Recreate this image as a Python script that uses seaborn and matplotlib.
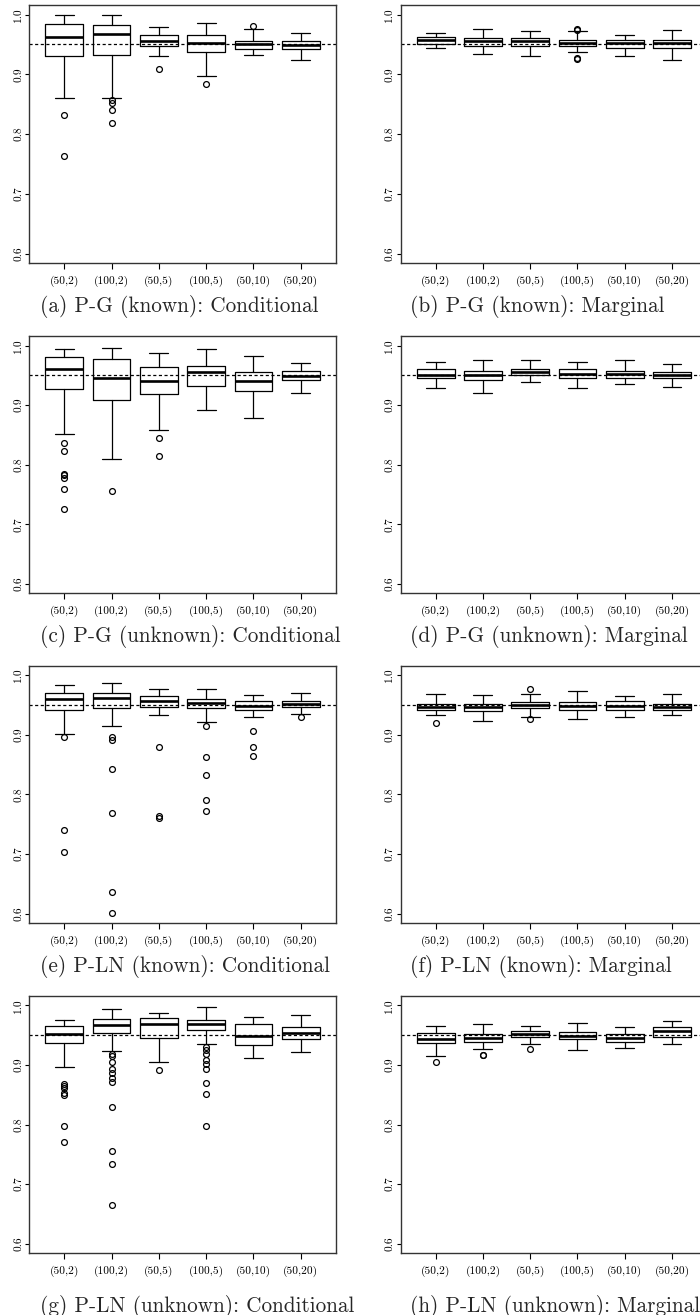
import matplotlib
matplotlib.use("Agg")
import matplotlib.pyplot as plt
import seaborn as sns

# %% Datos: (bigote inf, Q1, mediana, Q3, bigote sup) por caja

grupos = ["(50,2)", "(100,2)", "(50,5)", "(100,5)", "(50,10)", "(50,20)"]
ytick_vals = [0.6, 0.7, 0.8, 0.9, 1.0]
ytick_labels = ["0.6", "0.7", "0.8", "0.9", "1.0"]
nivel = 0.95

pg_known_cond = [(0.860, 0.930, 0.962, 0.984, 0.999), (0.860, 0.933, 0.967, 0.983, 0.999),
                 (0.930, 0.948, 0.956, 0.965, 0.980), (0.898, 0.937, 0.953, 0.965, 0.986),
                 (0.932, 0.942, 0.951, 0.956, 0.976), (0.924, 0.942, 0.949, 0.956, 0.969)]
pg_known_cond_out = [[0.832, 0.764], [0.857, 0.852, 0.840, 0.818], [0.909], [0.884], [0.981], []]

pg_known_marg = [(0.944, 0.950, 0.957, 0.962, 0.970), (0.934, 0.948, 0.955, 0.960, 0.976),
                 (0.930, 0.948, 0.955, 0.960, 0.972), (0.937, 0.948, 0.953, 0.958, 0.972),
                 (0.930, 0.944, 0.952, 0.958, 0.966), (0.924, 0.944, 0.952, 0.958, 0.974)]
pg_known_marg_out = [[], [], [], [0.976, 0.975, 0.927, 0.926], [], []]

pg_unknown_cond = [(0.852, 0.927, 0.960, 0.980, 0.994), (0.810, 0.909, 0.946, 0.978, 0.996),
                   (0.858, 0.918, 0.941, 0.964, 0.988), (0.892, 0.932, 0.955, 0.965, 0.994),
                   (0.878, 0.923, 0.940, 0.956, 0.982), (0.921, 0.942, 0.949, 0.958, 0.970)]
pg_unknown_cond_out = [[0.837, 0.823, 0.785, 0.782, 0.778, 0.759, 0.726], [0.755],
                       [0.844, 0.815], [], [], []]

pg_unknown_marg = [(0.928, 0.946, 0.951, 0.960, 0.973), (0.921, 0.942, 0.951, 0.958, 0.975),
                   (0.938, 0.950, 0.956, 0.960, 0.975), (0.928, 0.946, 0.952, 0.960, 0.973),
                   (0.935, 0.946, 0.952, 0.958, 0.975), (0.931, 0.945, 0.950, 0.955, 0.969)]
pg_unknown_marg_out = [[], [], [], [], [], []]

pln_known_cond = [(0.902, 0.942, 0.960, 0.970, 0.983), (0.914, 0.944, 0.962, 0.970, 0.987),
                  (0.933, 0.947, 0.956, 0.965, 0.976), (0.921, 0.944, 0.953, 0.960, 0.976),
                  (0.930, 0.942, 0.948, 0.956, 0.966), (0.934, 0.947, 0.952, 0.956, 0.970)]
pln_known_cond_out = [[0.896, 0.740, 0.704], [0.896, 0.891, 0.842, 0.768, 0.636, 0.602],
                      [0.880, 0.763, 0.761], [0.915, 0.863, 0.832, 0.790, 0.772],
                      [0.907, 0.880, 0.864], [0.930]]

pln_known_marg = [(0.933, 0.941, 0.947, 0.952, 0.969), (0.923, 0.939, 0.947, 0.952, 0.966),
                  (0.930, 0.944, 0.950, 0.955, 0.969), (0.927, 0.942, 0.948, 0.955, 0.973),
                  (0.929, 0.942, 0.948, 0.956, 0.965), (0.933, 0.941, 0.947, 0.952, 0.969)]
pln_known_marg_out = [[0.919], [], [0.977, 0.927], [], [], []]

pln_unknown_cond = [(0.897, 0.937, 0.951, 0.966, 0.975), (0.923, 0.953, 0.967, 0.977, 0.993),
                    (0.905, 0.945, 0.968, 0.978, 0.987), (0.935, 0.959, 0.969, 0.975, 0.997),
                    (0.911, 0.933, 0.949, 0.969, 0.981), (0.921, 0.944, 0.953, 0.963, 0.983)]
pln_unknown_cond_out = [[0.868, 0.865, 0.861, 0.852, 0.849, 0.797, 0.771],
                        [0.918, 0.915, 0.904, 0.893, 0.887, 0.878, 0.871, 0.829, 0.755, 0.733, 0.665],
                        [0.891],
                        [0.930, 0.925, 0.918, 0.909, 0.901, 0.893, 0.869, 0.851, 0.797],
                        [], []]

pln_unknown_marg = [(0.915, 0.937, 0.943, 0.953, 0.965), (0.926, 0.939, 0.945, 0.951, 0.969),
                    (0.935, 0.947, 0.952, 0.957, 0.965), (0.925, 0.943, 0.949, 0.955, 0.971),
                    (0.929, 0.939, 0.945, 0.951, 0.963), (0.935, 0.947, 0.956, 0.963, 0.973)]
pln_unknown_marg_out = [[0.905], [0.917, 0.916], [0.927], [], [], []]

captions = ["(a) P-G (known): Conditional", "(b) P-G (known): Marginal",
            "(c) P-G (unknown): Conditional", "(d) P-G (unknown): Marginal",
            "(e) P-LN (known): Conditional", "(f) P-LN (known): Marginal",
            "(g) P-LN (unknown): Conditional", "(h) P-LN (unknown): Marginal"]

paneles = [(pg_known_cond, pg_known_cond_out), (pg_known_marg, pg_known_marg_out),
           (pg_unknown_cond, pg_unknown_cond_out), (pg_unknown_marg, pg_unknown_marg_out),
           (pln_known_cond, pln_known_cond_out), (pln_known_marg, pln_known_marg_out),
           (pln_unknown_cond, pln_unknown_cond_out), (pln_unknown_marg, pln_unknown_marg_out)]

# %% Estilo

sns.set_theme(style="ticks")
plt.rcParams["font.family"] = ["cmr10", "DejaVu Serif"]
plt.rcParams["axes.formatter.use_mathtext"] = True

W, H = 700, 1315
fig = plt.figure(figsize=(W / 100, H / 100), dpi=100)

col_x = [(29.3, 335.7), (400.7, 707.0)]
fila_y = [(5, 263.3), (336, 593.3), (665.5, 923.3), (995.7, 1253.3)]
caption_y = [307, 637, 967, 1306]
caption_x = [40, 410]


def armar_stats(cajas, outliers):
    stats = []
    for (lo, q1, med, q3, hi), out in zip(cajas, outliers):
        stats.append({"whislo": lo, "q1": q1, "med": med, "q3": q3, "whishi": hi, "fliers": out})
    return stats


for i, (cajas, outliers) in enumerate(paneles):
    fila, col = divmod(i, 2)
    x0, x1 = col_x[col]
    yt, yb = fila_y[fila]
    ax = fig.add_axes([x0 / W, 1 - yb / H, (x1 - x0) / W, (yb - yt) / H])

    linea = dict(color="black", linewidth=0.9)
    ax.bxp(armar_stats(cajas, outliers), positions=range(1, 7), widths=0.8, capwidths=0.4,
           boxprops=linea, whiskerprops=linea, capprops=linea,
           medianprops=dict(color="black", linewidth=1.9),
           flierprops=dict(marker="o", markerfacecolor="none", markeredgecolor="black",
                           markersize=4.2, markeredgewidth=0.9))
    ax.axhline(nivel, color="black", linewidth=0.9, linestyle=(0, (2.5, 2)))

    ax.set_xlim(0.26, 6.74)
    ax.set_ylim(0.584, 1.016)
    ax.set_xticks(range(1, 7))
    ax.set_xticklabels(grupos, fontsize=8.2)
    ax.set_yticks(ytick_vals)
    ax.set_yticklabels(ytick_labels, fontsize=8.2, rotation=90, va="center")
    ax.tick_params(axis="x", length=4, width=0.8, pad=5, colors="black")
    ax.tick_params(axis="y", length=3, width=0.8, pad=1.5, colors="black")
    for sp in ax.spines.values():
        sp.set_color("#333333")
        sp.set_linewidth(1.0)
    ax.set_facecolor("white")

    fig.text(caption_x[col] / W, 1 - caption_y[fila] / H, captions[i],
             fontsize=15.3, ha="left", va="center")

fig.savefig("out.png", dpi=100)
